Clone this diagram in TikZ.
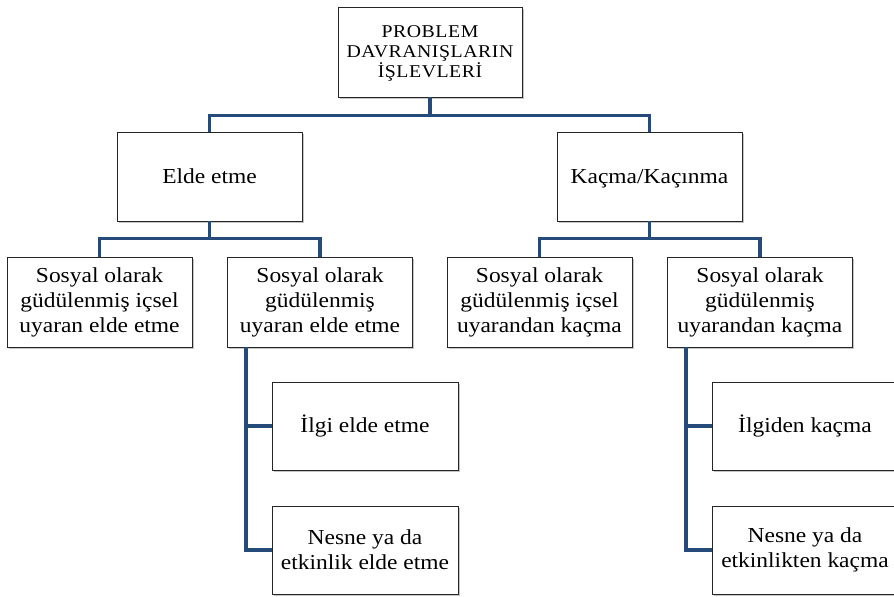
\documentclass[tikz,border=0pt]{standalone}
\usepackage{fontspec}
\setmainfont{Liberation Serif}
\newfontfamily\boxfont[FakeStretch=1.1]{Liberation Serif}
\newfontfamily\topfont[FakeStretch=1.1,LetterSpace=3]{Liberation Serif}
\usetikzlibrary{shadows}
\definecolor{linkblue}{RGB}{38,74,122}
\begin{document}
\begin{tikzpicture}[x=0.75pt,y=-0.75pt,
  box/.style={draw=black!85, line width=0.7pt, fill=white, align=center,
    inner sep=1pt, font=\boxfont\fontsize{16}{18.75}\selectfont,
    drop shadow={shadow xshift=1.2pt, shadow yshift=-1.2pt, fill=black!45, opacity=0.5}},
  link/.style={draw=linkblue, line width=2.4pt}]
\useasboundingbox (0,0) rectangle (894,597);
\clip (0,0) rectangle (894,597);
% nodes
\node[box, minimum width=184*0.75pt, minimum height=90*0.75pt, text depth=0pt, font=\topfont\fontsize{13.5}{15}\selectfont] (top) at (430,52) {PROBLEM\\DAVRANIŞLARIN\\İŞLEVLERİ};
\node[box, minimum width=185*0.75pt, minimum height=89*0.75pt] (elde) at (209.5,176.5) {Elde etme};
\node[box, minimum width=185*0.75pt, minimum height=89*0.75pt, text depth=0pt] (kacma) at (649.5,176.5) {Kaçma/Kaçınma};
\node[box, minimum width=185*0.75pt, minimum height=90*0.75pt] (a1) at (99.5,302) {Sosyal olarak\\güdülenmiş içsel\\uyaran elde etme};
\node[box, minimum width=185*0.75pt, minimum height=90*0.75pt] (a2) at (320,302) {Sosyal olarak\\güdülenmiş\\uyaran elde etme};
\node[box, minimum width=185*0.75pt, minimum height=90*0.75pt] (b1) at (539.5,302) {Sosyal olarak\\güdülenmiş içsel\\uyarandan kaçma};
\node[box, minimum width=185*0.75pt, minimum height=90*0.75pt] (b2) at (760,302) {Sosyal olarak\\güdülenmiş\\uyarandan kaçma};
\node[box, minimum width=186*0.75pt, minimum height=88*0.75pt] (a21) at (365,426) {İlgi elde etme};
\node[box, minimum width=186*0.75pt, minimum height=88*0.75pt] (a22) at (365,550) {Nesne ya da\\etkinlik elde etme};
\node[box, minimum width=186*0.75pt, minimum height=88*0.75pt] (b21) at (805,426) {İlgiden kaçma};
\node[box, minimum width=186*0.75pt, minimum height=88*0.75pt] (b22) at (805,550) {Nesne ya da\\etkinlikten kaçma};
% connectors
\draw[link] (top.south) -- ++(0,18) -| (elde.north);
\draw[link] (top.south) -- ++(0,18) -| (kacma.north);
\draw[link] (elde.south) -- ++(0,17) -| (a1.north);
\draw[link] (elde.south) -- ++(0,17) -| (a2.north);
\draw[link] (kacma.south) -- ++(0,17) -| (b1.north);
\draw[link] (kacma.south) -- ++(0,17) -| (b2.north);
\coordinate (busA) at (246,347);
\coordinate (busB) at (686,347);
\draw[link] (busA) |- (a21.west);
\draw[link] (busA) |- (a22.west);
\draw[link] (busB) |- (b21.west);
\draw[link] (busB) |- (b22.west);
\end{tikzpicture}
\end{document}
